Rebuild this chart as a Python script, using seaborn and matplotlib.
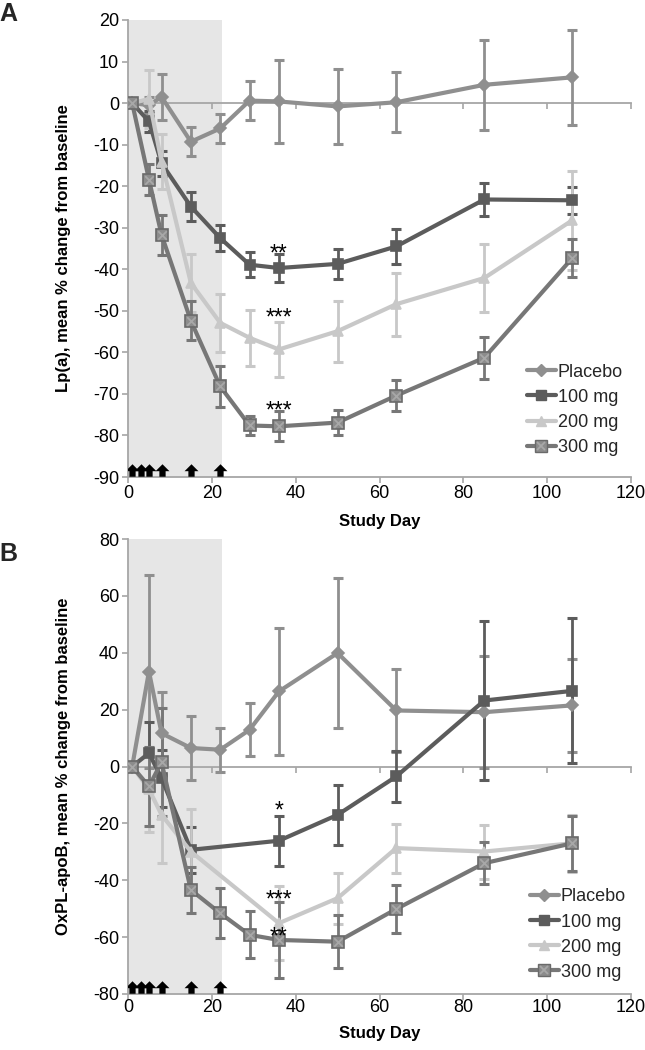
import numpy as np
import pandas as pd
import matplotlib
matplotlib.use("Agg")
import matplotlib.pyplot as plt
from matplotlib.lines import Line2D
from matplotlib.legend_handler import HandlerTuple
import seaborn as sns

sns.set_theme(style="white")
plt.rcParams['font.family'] = ['Liberation Sans', 'DejaVu Sans']
plt.rcParams['axes.unicode_minus'] = False

# ---------------- data ----------------
days = [1, 5, 8, 15, 22, 29, 36, 50, 64, 85, 106]
groups = ["Placebo", "100 mg", "200 mg", "300 mg"]
dosing_days = [1, 3, 5, 8, 15, 22]
treatment_end = 22.4

# Panel A: Lp(a)
lpa_placebo = [0, -0.5, 1.5, -9.3, -6.1, 0.6, 0.4, -0.8, 0.2, 4.4, 6.2]
lpa_placebo_err = [0, 2, 5.6, 3.5, 3.5, 4.6, 9.9, 9.0, 7.2, 10.8, 11.5]
lpa_100 = [0, -4.4, -14.5, -24.9, -32.5, -38.9, -39.7, -38.7, -34.5, -23.2, -23.4]
lpa_100_err = [0, 2.5, 3.0, 3.5, 3.2, 3.0, 3.4, 3.7, 4.2, 3.9, 3.3]
lpa_200 = [0, 1.0, -14.1, -43.3, -52.9, -56.5, -59.3, -54.9, -48.4, -42.1, -28.2]
lpa_200_err = [0, 7.0, 6.6, 7.0, 7.0, 6.8, 6.7, 7.3, 7.6, 8.2, 11.9]
lpa_300 = [0, -18.4, -31.7, -52.4, -68.2, -77.6, -77.8, -76.9, -70.4, -61.3, -37.3]
lpa_300_err = [0, 3.8, 4.8, 4.7, 5.0, 2.3, 3.6, 3.1, 3.7, 5.0, 4.5]

# Panel B: OxPL-apoB
nan = np.nan
ox_placebo = [0, 33.4, 11.7, 6.5, 5.9, 12.9, 26.4, 39.9, 19.7, 19.1, 21.5]
ox_placebo_err = [0, 34, 14.6, 11.3, 7.7, 9.3, 22.4, 26.4, 14.6, 19.8, 16.4]
ox_100 = [0, 4.7, -4.1, -29.3, nan, nan, -26.1, -17.0, -3.5, 23.2, 26.6]
ox_100_err = [0, 11, 10, 8, nan, nan, 8.8, 10.5, 8.9, 28, 25.5]
ox_200 = [0, -8.0, -17.0, -29.9, nan, nan, -55.1, -46.3, -28.7, -29.9, -27.0]
ox_200_err = [0, 15, 17, 15, nan, nan, 13, 9, 8.6, 9.5, 10]
ox_300 = [0, -7.0, 1.5, -43.4, -51.6, -59.2, -61.0, -61.6, -50.1, -34.0, -27.0]
ox_300_err = [0, 14, 19, 8, 8.7, 8.3, 13.3, 9.4, 8.3, 7.3, 9.7]

# significance marks at day 36 (visual centre of the asterisks)
stars_day = 36
lpa_stars = ["**", "***", "***"]
lpa_stars_y = [-34.7, -50.2, -72.5]
ox_stars = ["*", "***", "**"]
ox_stars_y = [-13.5, -44.5, -57.7]

# ---------------- style ----------------
colors = {"Placebo": "#8f8f8f", "100 mg": "#5c5c5c", "200 mg": "#c8c8c8", "300 mg": "#777777"}
markers = {"Placebo": "D", "100 mg": "s", "200 mg": "^", "300 mg": "s"}
msizes = {"Placebo": 6, "100 mg": 7.5, "200 mg": 7.5, "300 mg": 8.5}
axis_gray = "#a6a6a6"
STAR_FS = 16.5


def build_df(vals, errs):
    rows = []
    for g, v, e in zip(groups, vals, errs):
        for d, y, err in zip(days, v, e):
            rows.append({"day": d, "value": y, "err": err, "group": g})
    return pd.DataFrame(rows).dropna()


df_a = build_df([lpa_placebo, lpa_100, lpa_200, lpa_300],
                [lpa_placebo_err, lpa_100_err, lpa_200_err, lpa_300_err])
df_b = build_df([ox_placebo, ox_100, ox_200, ox_300],
                [ox_placebo_err, ox_100_err, ox_200_err, ox_300_err])

fig = plt.figure(figsize=(6.45, 10.5), dpi=100)
ax_a = fig.add_axes([128 / 645, 1 - 477 / 1050, 503 / 645, 457 / 1050])
ax_b = fig.add_axes([128 / 645, 1 - 994 / 1050, 503 / 645, 455 / 1050])

arrow_verts = [(-1.0, -0.1), (0.0, 0.9), (1.0, -0.1), (0.45, -0.1),
               (0.45, -0.9), (-0.45, -0.9), (-0.45, -0.1), (-1.0, -0.1)]


def draw_panel(ax, df, ylim, yticks, ylabel, stars, stars_y, letter, letter_y, tickpad):
    ax.axvspan(0, treatment_end, color="#e6e6e6", zorder=0, lw=0)
    for g in groups:
        sub = df[df["group"] == g]
        c = colors[g]
        ax.errorbar(sub["day"], sub["value"], yerr=sub["err"], fmt="none",
                    ecolor=c, elinewidth=2.0, capsize=3.8, capthick=2.2, zorder=3)
        sns.lineplot(data=sub, x="day", y="value", ax=ax, color=c, lw=3.0,
                     marker=markers[g], markersize=msizes[g],
                     markeredgecolor=c if g != "300 mg" else "#6a6a6a",
                     markerfacecolor=c if g != "300 mg" else "#8c8c8c",
                     markeredgewidth=1.2, zorder=4, legend=False)
        if g == "300 mg":
            ax.scatter(sub["day"], sub["value"], marker="x", s=38, color="#a8a8a8",
                       linewidths=1.3, zorder=5)
    # dosing arrows
    yarrow = ylim[0] + 0.015 * (ylim[1] - ylim[0])
    ax.scatter(dosing_days, [yarrow] * len(dosing_days), marker=arrow_verts,
               s=100, color="black", zorder=6, linewidths=0)

    # asterisks: baseline placed so that glyph centre lands on given y
    ax_h_px = ax.get_position().height * fig.get_figheight() * fig.dpi
    units_per_px = (ylim[1] - ylim[0]) / ax_h_px
    shift = 0.57 * STAR_FS * fig.dpi / 72 * units_per_px
    for s, y in zip(stars, stars_y):
        ax.text(stars_day, y - shift, s, ha="center", va="baseline",
                fontsize=STAR_FS, color="black", zorder=7)

    ax.set_xlim(0, 120)
    ax.set_ylim(*ylim)
    ax.set_yticks(yticks)
    ax.set_xticks(range(0, 121, 20))
    for side in ["top", "right"]:
        ax.spines[side].set_visible(False)
    for side in ["left", "bottom"]:
        ax.spines[side].set_color(axis_gray)
        ax.spines[side].set_linewidth(1.3)
    ax.tick_params(axis="both", which="both", direction="out", length=4.5, width=1.2,
                   color=axis_gray, labelsize=13, labelcolor="black", left=True, bottom=True)
    ax.tick_params(axis="x", pad=tickpad)
    ax.tick_params(axis="y", pad=2)
    # zero line with ticks
    sec = ax.secondary_xaxis(0, transform=ax.transData)
    sec.set_xticks(range(20, 121, 20))
    sec.set_xticklabels([])
    sec.spines["bottom"].set_color(axis_gray)
    sec.spines["bottom"].set_linewidth(1.3)
    sec.tick_params(axis="x", direction="out", length=4.5, width=1.2, color=axis_gray)

    ax.set_xlabel("Study Day", fontsize=12, fontweight="bold", color="black")
    ax.set_ylabel(ylabel, fontsize=12, fontweight="bold", color="black")
    ax.yaxis.set_label_coords(-0.113, 0.5)
    ax.grid(False)
    ax.set_facecolor("white")
    ax.text(-0.255, letter_y, letter, transform=ax.transAxes, fontsize=18,
            fontweight="bold", va="center", ha="left")

    handles = []
    for g in groups:
        c = colors[g]
        h = Line2D([], [], color=c, lw=3.0, marker=markers[g], markersize=msizes[g],
                   markeredgecolor=c if g != "300 mg" else "#6a6a6a",
                   markerfacecolor=c if g != "300 mg" else "#8c8c8c")
        if g == "300 mg":
            hx = Line2D([], [], color="#a8a8a8", lw=0, marker="x", markersize=6,
                        markeredgewidth=1.3)
            h = (h, hx)
        handles.append(h)
    return handles


h_a = draw_panel(ax_a, df_a, (-90, 20), range(-90, 21, 10),
                 "Lp(a), mean % change from baseline",
                 lpa_stars, lpa_stars_y, "A", 1.014, 1.0)
h_b = draw_panel(ax_b, df_b, (-80, 80), range(-80, 81, 20),
                 "OxPL-apoB, mean % change from baseline",
                 ox_stars, ox_stars_y, "B", 0.967, -1.0)

ax_a.xaxis.set_label_coords(0.5, -0.082)
ax_b.xaxis.set_label_coords(0.5, -0.071)

for ax, h, anchor in [(ax_a, h_a, (0.793, 0.248)), (ax_b, h_b, (0.799, 0.232))]:
    ax.legend(h, groups, loc="upper left", bbox_to_anchor=anchor, frameon=False,
              fontsize=13, handlelength=1.6, handletextpad=0.1, labelspacing=0.45,
              borderaxespad=0, borderpad=0,
              handler_map={tuple: HandlerTuple(ndivide=1, pad=0)})

fig.savefig("out.png", dpi=100, facecolor="white")
